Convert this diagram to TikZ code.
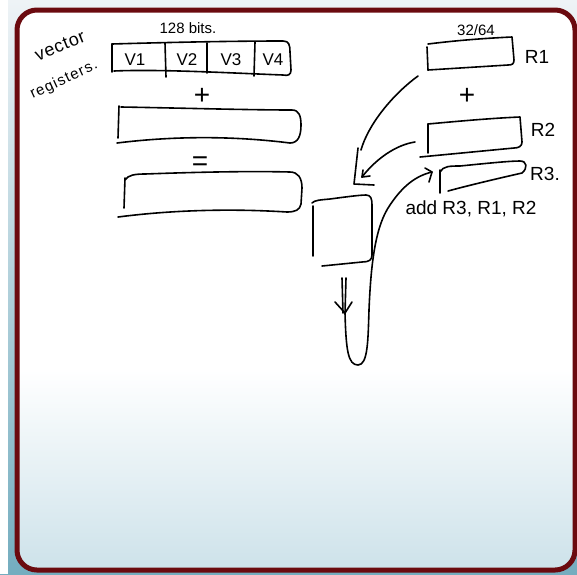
\documentclass[tikz,border=0pt]{standalone}
\usepackage{fontspec}
\setmainfont{Liberation Sans}
\definecolor{framered}{HTML}{6B0A0F}
\definecolor{outertop}{HTML}{EEF3F6}
\definecolor{outerbot}{HTML}{74ADBF}
\definecolor{innerbot}{HTML}{CDE2EA}
\tikzset{
  ink/.style={line width=1.6pt, line cap=round, line join=round, black},
  hand/.style={inner sep=0pt, font=\fontsize{17}{17}\selectfont},
  bighand/.style={inner sep=0pt, font=\fontsize{19}{19}\selectfont},
  smallhand/.style={inner sep=0pt, font=\fontsize{15}{15}\selectfont},
  sign/.style={inner sep=0pt, font=\fontsize{28}{28}\selectfont},
}
\begin{document}
\begin{tikzpicture}[x=1pt,y=-1pt]
\useasboundingbox (0,0) rectangle (577,574);
% background
\shade[top color=outertop, bottom color=outerbot] (0,0) rectangle (577,574);
\fill[white] (0,0) rectangle (8,574);
\begin{scope}
  \clip[rounded corners=20pt] (17,10) rectangle (575,570);
  \fill[white] (17,10) rectangle (575,570);
  \shade[top color=white, bottom color=innerbot] (17,370) rectangle (575,570);
\end{scope}
\draw[framered, line width=5pt, rounded corners=20pt] (17,10) rectangle (575,570);

% ---- left: vector registers ----
\node[inner sep=0pt, rotate=22, font=\fontsize{18}{18}\selectfont\addfontfeature{LetterSpace=4}] (lblvec) at (60,46) {vector};
\node[inner sep=0pt, rotate=25, font=\fontsize{15}{15}\selectfont\addfontfeature{LetterSpace=8}] (lblreg) at (64,80) {registers.};
\node[smallhand] (lbl128) at (188,28) {128 bits.};

% vector box
\draw[ink] (112,72) -- (112,44);
\draw[ink] (112,44) .. controls (180,42) and (240,41) .. (283,41)
  .. controls (289,41) and (290,45) .. (290,52) -- (291,70)
  .. controls (291,75) and (288,76) .. (283,75)
  .. controls (230,73) and (160,69) .. (114,71);
\draw[ink] (165,43) -- (166,77);
\draw[ink] (207,43) -- (207,73);
\draw[ink] (255,42) -- (254,76);
\node[hand] (v1) at (135,60) {V1};
\node[hand] (v2) at (187,60) {V2};
\node[hand] (v3) at (231,60) {V3};
\node[hand] (v4) at (273,60) {V4};

\node[sign] (plusl) at (202,96) {+};

% second box
\draw[ink] (119,106) -- (118,138);
\draw[ink] (121,107) .. controls (180,108) and (250,110) .. (292,110)
  .. controls (299,110) and (301,116) .. (301,125)
  .. controls (301,136) and (298,143) .. (290,143)
  .. controls (250,138) and (190,134) .. (117,143);

\node[sign] (eql) at (200,164) {=};

% third box
\draw[ink] (125,178) -- (124,208);
\draw[ink] (125,180) .. controls (128,175) and (135,174) .. (145,174)
  .. controls (200,172) and (250,171) .. (290,172)
  .. controls (298,172) and (302,178) .. (302,188) -- (301,204)
  .. controls (300,210) and (295,212) .. (287,212)
  .. controls (240,209) and (180,209) .. (118,217);

% ---- right: scalar registers ----
\node[smallhand] (lbl3264) at (476,30) {32/64};
\draw[ink] (427,47) -- (428,70);
\draw[ink] (428,44) .. controls (460,40) and (490,38) .. (512,37) -- (514,60)
  .. controls (514,64) and (512,65) .. (508,65) -- (428,70);
\node[bighand] (r1) at (537,57) {R1};

\node[sign] (plusr) at (467,96) {+};

\draw[ink] (428,124) -- (428,153);
\draw[ink] (428,124) .. controls (460,121) and (495,118) .. (520,117) -- (522,142)
  .. controls (522,146) and (519,148) .. (514,148) -- (420,157);
\node[bighand] (r2) at (543,130) {R2};

\draw[ink] (440,170) -- (440,193);
\draw[ink] (440,172) .. controls (443,166) and (450,166) .. (460,166)
  .. controls (490,163) and (510,161) .. (520,161)
  .. controls (527,161) and (528,168) .. (522,173)
  .. controls (500,178) and (470,185) .. (448,191);
\node[bighand] (r3) at (545,174) {R3.};

\node[bighand] (instr) at (471,209) {add R3, R1, R2};

% result box
\draw[ink] (313,206) -- (313,256);
\draw[ink] (312,203) .. controls (315,200) and (320,200) .. (330,199)
  .. controls (345,197) and (360,195) .. (366,195)
  .. controls (371,195) and (372,199) .. (372,205) -- (372,255)
  .. controls (372,260) and (369,262) .. (362,262) -- (322,266);

% connectors
\coordinate (a1s) at (418,76);
\coordinate (a1m) at (361,150);
\coordinate (a1t) at (354,184);
\draw[ink] (a1s) .. controls (392,95) and (368,125) .. (a1m);
\draw[ink] (358,148) -- (a1t) -- ++(20,1);

\coordinate (a2s) at (415,142);
\coordinate (a2t) at (362,177);
\draw[ink] (a2s) .. controls (395,145) and (375,160) .. (a2t);
\draw[ink] (a2t) -- ++(1,-7);
\draw[ink] (a2t) -- ++(8,-1);

\coordinate (d1) at (342,278);
\coordinate (d2) at (346,278);
\coordinate (dt) at (345,313);
\draw[ink] (d1) -- (343,313);
\draw[ink] (d2) -- (dt);
\draw[ink] (335,302) -- (dt) -- (352,302);

\coordinate (r3tip) at (432,172);
\draw[ink] (dt) .. controls (346,350) and (348,365) .. (358,365)
  .. controls (368,365) and (368,340) .. (369,310)
  .. controls (371,260) and (376,225) .. (390,205)
  .. controls (402,187) and (415,176) .. (r3tip);
\draw[ink] (425,168) -- (r3tip) -- (429,182);
\end{tikzpicture}
\end{document}
